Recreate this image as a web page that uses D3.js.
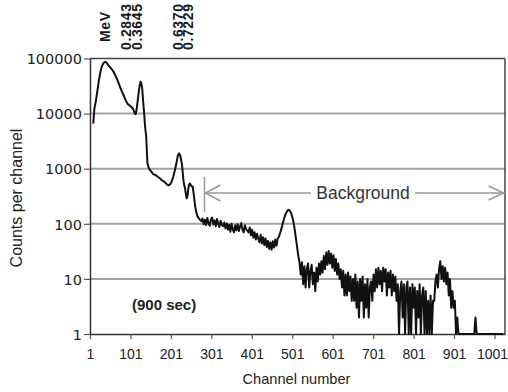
<!DOCTYPE html>
<html>
<head>
<meta charset="utf-8">
<script src="https://cdn.jsdelivr.net/npm/d3@7/dist/d3.min.js"></script>
<style>
  html, body { margin: 0; padding: 0; background: #fff; }
  svg { display: block; }
</style>
</head>
<body>
<svg id="chart" width="508" height="392"></svg>
<script>
// ---- Data ----
// Low-energy part of the spectrum (channel, counts)
const peakChannels = [9, 10, 12, 15, 17, 20, 23, 27, 30, 34, 38, 42, 46, 52, 59, 63, 67, 71, 75, 80, 86, 90, 94, 99, 104, 108, 112, 114, 116, 118, 120, 123, 126, 128, 130, 132, 135, 137, 140, 142, 143, 146, 149, 153, 157, 162, 166, 170, 174, 178, 183, 187, 191, 195, 199, 203, 207, 211, 215, 218, 221, 224, 228, 230, 232, 234, 236, 238, 240, 242, 244, 246, 248, 250, 252, 255, 258, 261, 264, 267, 270, 273, 276];
const peakCounts = [6600, 8000, 12500, 16000, 20000, 28000, 40000, 58000, 71000, 82000, 87000, 84000, 76000, 68000, 58000, 50000, 44000, 37000, 31000, 25000, 20000, 17000, 15000, 14000, 13000, 12000, 10000, 9800, 11600, 15000, 20000, 30000, 38000, 35000, 29000, 18000, 10000, 6000, 3800, 1800, 1250, 1050, 950, 880, 800, 770, 740, 700, 670, 620, 590, 560, 520, 500, 520, 580, 720, 950, 1300, 1700, 1900, 1750, 1250, 900, 620, 500, 440, 350, 290, 320, 430, 520, 540, 510, 480, 470, 320, 205, 160, 135, 125, 118, 112];

// Background part: counts every 3rd channel starting at channel 279
const bgStartChannel = 279;
const bgChannelStep = 3;
const bgCounts = [
  125, 98, 118, 95, 128, 102, 92, 120, 130, 97, 115, 90, 122, 100, 88, 114, 96, 90,
  106, 82, 101, 78, 96, 72, 100, 80, 70, 94, 76, 98, 74, 90, 103, 78, 70, 94, 80, 75,
  70, 86, 62, 78, 56, 70, 52, 66, 54, 46, 63, 44, 57, 41, 54, 38, 49, 35, 46, 34, 48, 37, 52, 40, 54, 58,
  68, 80, 98, 118, 140, 158, 172, 180, 174, 158, 135, 108, 80, 55, 38, 26, 20,
  12, 20, 8, 17, 7, 15, 19, 7, 14, 18, 8, 13, 6, 16, 9, 19, 12,
  21, 13, 26, 15, 30, 18, 32, 19, 29, 16, 27, 14, 23, 12, 19, 10,
  15, 7, 14, 5, 12, 5, 13, 6, 11, 4, 10, 4, 12, 3,
  9, 2, 10, 4, 11, 2, 8, 3, 10, 2, 7, 9, 4,
  12, 6, 15, 7, 16, 8, 14, 6, 16, 9, 15, 5, 13, 7, 14, 5, 12, 6, 11, 4,
  8, 1, 6, 9, 2, 8, 1, 7, 9, 1, 7, 1, 8, 3, 7, 1, 6, 2, 8, 1, 5, 7, 1, 6, 1, 4, 1, 5, 1, 4,
  4, 9, 12, 7, 15, 21, 10, 17, 9, 16, 8, 13, 5, 10, 3, 6,
  3, 4, 1, 2, 1, 1, 1, 1, 1, 1, 1, 1, 1, 1, 1, 1, 1, 1, 2, 1, 1, 1, 1, 1, 1, 1, 1, 1, 1, 1, 1, 1, 1, 1, 1, 1, 1, 1, 1, 1, 1, 1
];

const xTickValues = [1, 101, 201, 301, 401, 501, 601, 701, 801, 901, 1001];
const xTickLabels = ["1", "101", "201", "301", "401", "501", "601", "701", "801", "901", "1001"];
const yTickValues = [1, 10, 100, 1000, 10000, 100000];
const yTickLabels = ["1", "10", "100", "1000", "10000", "100000"];
const energyLabels = [
  { text: "MeV", channel: 38 },
  { text: "0.2843", channel: 89 },
  { text: "0.3645", channel: 116 },
  { text: "0.6370", channel: 218 },
  { text: "0.7229", channel: 244 }
];
const xTitle = "Channel number";
const yTitle = "Counts per channel";
const noteText = "(900 sec)";
const bgText = "Background";
const bgRange = [284, 1026];

// ---- Build series ----
const series = [];
peakChannels.forEach((c, i) => series.push({ ch: c, v: peakCounts[i] }));
bgCounts.forEach((v, i) => series.push({ ch: bgStartChannel + i * bgChannelStep, v: v }));

// ---- Layout ----
const svg = d3.select("#chart");
const pLeft = 90, pRight = 505, pTop = 58.5, pBottom = 334;

const x = d3.scaleLinear().domain([1, 1027]).range([pLeft, pRight]);
const y = d3.scaleLog().domain([1, 100000]).range([pBottom, pTop]);

// Gridlines
svg.append("g").selectAll("line")
  .data([10, 100, 1000, 10000])
  .join("line")
  .attr("x1", pLeft).attr("x2", pRight)
  .attr("y1", d => y(d)).attr("y2", d => y(d))
  .attr("stroke", "#a3a3a3").attr("stroke-width", 2);

// Frame (top and right)
svg.append("line").attr("x1", pLeft).attr("x2", pRight).attr("y1", y(100000)).attr("y2", y(100000))
  .attr("stroke", "#444").attr("stroke-width", 1.5);
svg.append("line").attr("x1", pRight).attr("x2", pRight).attr("y1", pTop).attr("y2", pBottom)
  .attr("stroke", "#444").attr("stroke-width", 1.5);

// Axes
const xAxis = d3.axisBottom(x).tickValues(xTickValues)
  .tickFormat((d, i) => xTickLabels[i]).tickSize(5).tickSizeOuter(0);
const gx = svg.append("g").attr("transform", `translate(0,${pBottom})`).call(xAxis);
gx.select(".domain").attr("stroke", "#333").attr("stroke-width", 1.5);
gx.selectAll(".tick line").attr("stroke", "#555").attr("stroke-width", 1.2);
gx.selectAll(".tick text")
  .attr("font-family", "'Liberation Sans', Arial, sans-serif")
  .attr("font-size", 14).attr("fill", "#222").attr("dy", 0).attr("y", 25)
  .attr("dx", (d, i) => i === xTickValues.length - 1 ? -2.5 : 0);

const yAxis = d3.axisLeft(y).tickValues(yTickValues)
  .tickFormat((d, i) => yTickLabels[i]).tickSize(6).tickSizeOuter(0);
const gy = svg.append("g").attr("transform", `translate(${pLeft},0)`).call(yAxis);
gy.select(".domain").attr("stroke", "#333").attr("stroke-width", 1.5);
gy.selectAll(".tick line").attr("stroke", "#555").attr("stroke-width", 1.2);
gy.selectAll(".tick text")
  .attr("font-family", "'DejaVu Sans', sans-serif")
  .attr("font-size", 14.5).attr("fill", "#222").attr("x", -8).attr("dy", "0.36em");

// Spectrum line
const line = d3.line().x(d => x(d.ch)).y(d => y(Math.max(1, d.v)));
svg.append("path").datum(series)
  .attr("d", line)
  .attr("fill", "none")
  .attr("stroke", "#111")
  .attr("stroke-width", 2)
  .attr("stroke-linejoin", "round");

// Energy labels at top (rotated)
svg.append("g").selectAll("text")
  .data(energyLabels)
  .join("text")
  .attr("transform", d => `translate(${x(d.channel) + 5},${d.text === "MeV" ? 42 : 50}) rotate(-90)`)
  .attr("font-family", "'Liberation Sans', Arial, sans-serif")
  .attr("font-weight", "bold")
  .attr("font-size", 14)
  .attr("fill", "#1a1a1a")
  .attr("textLength", d => d.text === "MeV" ? 30 : 46)
  .attr("lengthAdjust", "spacing")
  .text(d => d.text);

// Axis titles
svg.append("text")
  .attr("x", (pLeft + pRight) / 2 - 1).attr("y", 384)
  .attr("text-anchor", "middle")
  .attr("font-family", "'Liberation Sans', Arial, sans-serif")
  .attr("font-size", 14.6).attr("fill", "#222")
  .text(xTitle);

svg.append("text")
  .attr("transform", `translate(22,198) rotate(-90)`)
  .attr("text-anchor", "middle")
  .attr("font-family", "'Liberation Sans', Arial, sans-serif")
  .attr("font-size", 16).attr("fill", "#222")
  .text(yTitle);

// Note
svg.append("text")
  .attr("x", 132).attr("y", 310)
  .attr("font-family", "'Liberation Sans', Arial, sans-serif")
  .attr("font-weight", "bold")
  .attr("font-size", 15).attr("fill", "#222")
  .text(noteText);

// Background annotation
const arrowY = 193;
const ax0 = x(bgRange[0]), ax1 = x(bgRange[1]);
const ann = svg.append("g").attr("stroke", "#9a9a9a").attr("stroke-width", 1.5).attr("fill", "none");
ann.append("line").attr("x1", ax0).attr("x2", ax0).attr("y1", arrowY - 16).attr("y2", arrowY + 19);
ann.append("line").attr("x1", ax0 + 1).attr("x2", 311).attr("y1", arrowY).attr("y2", arrowY);
ann.append("line").attr("x1", 415).attr("x2", ax1).attr("y1", arrowY).attr("y2", arrowY);
ann.append("path").attr("d", `M${ax0 + 16},${arrowY - 8} L${ax0 + 1},${arrowY} L${ax0 + 16},${arrowY + 8}`);
ann.append("path").attr("d", `M${ax1 - 16},${arrowY - 7} L${ax1 - 1},${arrowY} L${ax1 - 16},${arrowY + 7}`);

svg.append("text")
  .attr("x", 363).attr("y", 199)
  .attr("text-anchor", "middle")
  .attr("font-family", "'Liberation Sans', Arial, sans-serif")
  .attr("font-size", 17.5).attr("fill", "#333")
  .text(bgText);
</script>
</body>
</html>
